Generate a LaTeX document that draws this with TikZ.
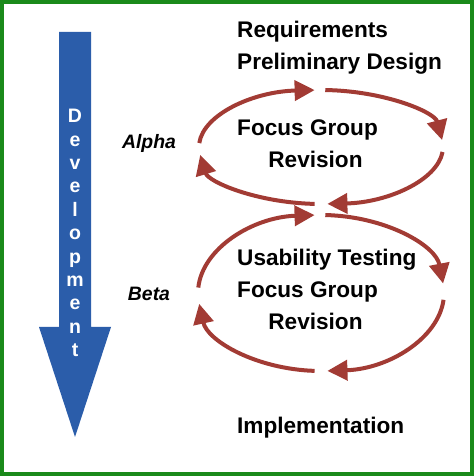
\documentclass[tikz,border=0pt]{standalone}
\usepackage{fontspec}
\setmainfont{Liberation Sans}
\usetikzlibrary{arrows.meta}

\definecolor{framegreen}{HTML}{1A8A1A}
\definecolor{devblue}{HTML}{2B5DAA}
\definecolor{loopred}{HTML}{A23B34}

\tikzset{
	phase/.style={anchor=base west,inner sep=0pt,font=\fontsize{22.6}{26}\selectfont\bfseries},
	stage/.style={anchor=base,inner sep=0pt,font=\fontsize{19.4}{22}\selectfont\bfseries\itshape},
	devletter/.style={anchor=base,inner sep=0pt,text=white,font=\fontsize{19.5}{22}\selectfont\bfseries},
	loopline/.style={draw=loopred,line width=4pt,-{Triangle[length=20pt,width=20pt]}}
}

\begin{document}
\begin{tikzpicture}[x=1pt,y=1pt]
		\useasboundingbox (0,0) rectangle (474,476);
		\fill[white] (0,0) rectangle (474,476);
		\draw[framegreen,line width=4pt] (2,2) rectangle (472,474);

		% development arrow
		\fill[devblue] (59,444) -- (91,444) -- (91,149) -- (111,149) -- (75,39) -- (39,149) -- (59,149) -- cycle;
		\foreach \ch [count=\i from 0] in {D,e,v,e,l,o,p,m,e,n,t}
			\node[devletter] (dev\i) at (75,353.3-23.4*\i) {\ch};

		% loops
		\coordinate (alphac) at (321,329);
		\coordinate (betac) at (321,183);
		\foreach \s/\e in {176/93,88/7,-5/-87,-93/-172} {
			\draw[loopline] ([shift={(\s:122 and 57)}]alphac) arc[start angle=\s,end angle=\e,x radius=122,y radius=57];
			\draw[loopline] ([shift={(\s:123 and 78)}]betac) arc[start angle=\s,end angle=\e,x radius=123,y radius=78];
		}

		\node[phase] (req) at (237,438) {Requirements};
		\node[phase] (prelim) at (237,406) {Preliminary Design};
		\node[phase] (afocus) at (237,340) {Focus Group};
		\node[phase,anchor=base] (arev) at (315.5,308) {Revision};
		\node[phase] (busab) at (237,210) {Usability Testing};
		\node[phase] (bfocus) at (237,178) {Focus Group};
		\node[phase,anchor=base] (brev) at (315.5,146) {Revision};
		\node[phase] (impl) at (237,42) {Implementation};

		\node[stage] (alpha) at (149,327) {Alpha};
		\node[stage] (beta) at (149,175) {Beta};
	\end{tikzpicture}
\end{document}
